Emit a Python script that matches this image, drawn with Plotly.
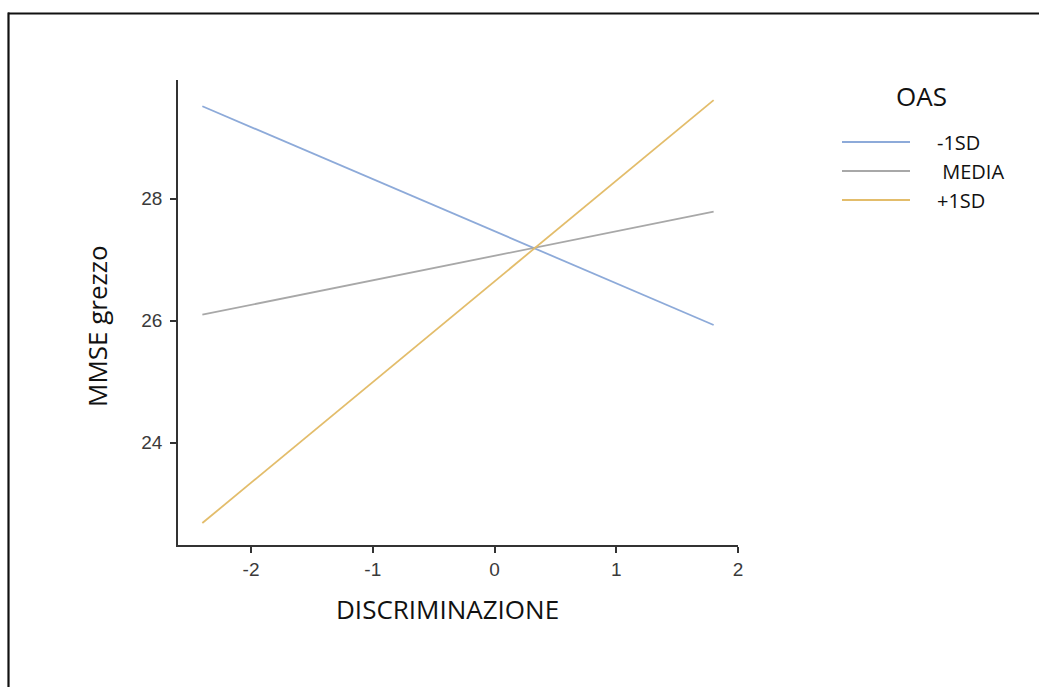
import plotly.graph_objects as go

# Simple slopes of MMSE on DISCRIMINAZIONE at three levels of OAS
discriminazione = [-2.4, 1.8]
groups = ["-1SD", " MEDIA", "+1SD"]
mmse_start = [29.52, 26.10, 22.68]
mmse_end = [25.93, 27.79, 29.62]
colors = ["#8DAAD9", "#A8A8A8", "#E3BD6B"]

x_ticks = [-2, -1, 0, 1, 2]
y_ticks = [24, 26, 28]

W, H = 1039, 687
L, R, T, B = 178, 301, 80, 142
pw, ph = W - L - R, H - T - B


def px_x(p):
    return (p - L) / pw


def px_y(p):
    return (H - B - p) / ph


fig = go.Figure()
for name, y0, y1, c in zip(groups, mmse_start, mmse_end, colors):
    fig.add_trace(go.Scatter(
        x=discriminazione, y=[y0, y1], mode="lines", name=name,
        line=dict(color=c, width=1.8), showlegend=False,
    ))

shapes = []
annotations = []
title_font = dict(family="Open Sans", size=26, color="#111111")

# Axis titles
annotations.append(dict(
    x=px_x(447), y=px_y(609), xref="paper", yref="paper", text="DISCRIMINAZIONE",
    showarrow=False, xanchor="center", yanchor="middle", font=title_font,
))
annotations.append(dict(
    x=px_x(97), y=px_y(326), xref="paper", yref="paper", text="MMSE grezzo",
    showarrow=False, xanchor="center", yanchor="middle", textangle=-90, font=title_font,
))

# Legend drawn by hand: title, short line keys, labels
annotations.append(dict(
    x=px_x(921), y=px_y(96), xref="paper", yref="paper", text="OAS",
    showarrow=False, xanchor="center", yanchor="middle", font=title_font,
))
for i, (name, c) in enumerate(zip(groups, colors)):
    yy = 142 + i * 29
    shapes.append(dict(
        type="line", xref="paper", yref="paper",
        x0=px_x(842), x1=px_x(910), y0=px_y(yy), y1=px_y(yy),
        line=dict(color=c, width=1.8),
    ))
    annotations.append(dict(
        x=px_x(935), y=px_y(yy), xref="paper", yref="paper", text=name,
        showarrow=False, xanchor="left", yanchor="middle",
        font=dict(family="Open Sans", size=20, color="#111111"),
    ))

# Frame lines along the top and left edges of the page
shapes.append(dict(type="line", xref="paper", yref="paper",
                   x0=px_x(8), x1=px_x(1045), y0=px_y(13.5), y1=px_y(13.5),
                   line=dict(color="#111111", width=2.2)))
shapes.append(dict(type="line", xref="paper", yref="paper",
                   x0=px_x(8.5), x1=px_x(8.5), y0=px_y(12.5), y1=px_y(700),
                   line=dict(color="#111111", width=2.2)))

tick_font = dict(family="Liberation Sans", size=19, color="#3a3a3a")
fig.update_layout(
    width=W, height=H,
    margin=dict(l=L, r=R, t=T, b=B),
    paper_bgcolor="white", plot_bgcolor="white",
    shapes=shapes, annotations=annotations,
    xaxis=dict(
        range=[-2.6, 2.0], tickvals=x_ticks, ticktext=[str(v) for v in x_ticks],
        showgrid=False, zeroline=False, showline=True, linecolor="#333333", linewidth=1.5,
        ticks="outside", ticklen=6, tickwidth=1.5, tickcolor="#333333",
        tickfont=tick_font,
    ),
    yaxis=dict(
        range=[22.32, 29.95], tickvals=y_ticks, ticktext=[str(v) for v in y_ticks],
        showgrid=False, zeroline=False, showline=True, linecolor="#333333", linewidth=1.5,
        ticks="outside", ticklen=6, tickwidth=1.5, tickcolor="#333333",
        tickfont=tick_font, ticklabelstandoff=4,
    ),
)

fig.write_html("out.html")
